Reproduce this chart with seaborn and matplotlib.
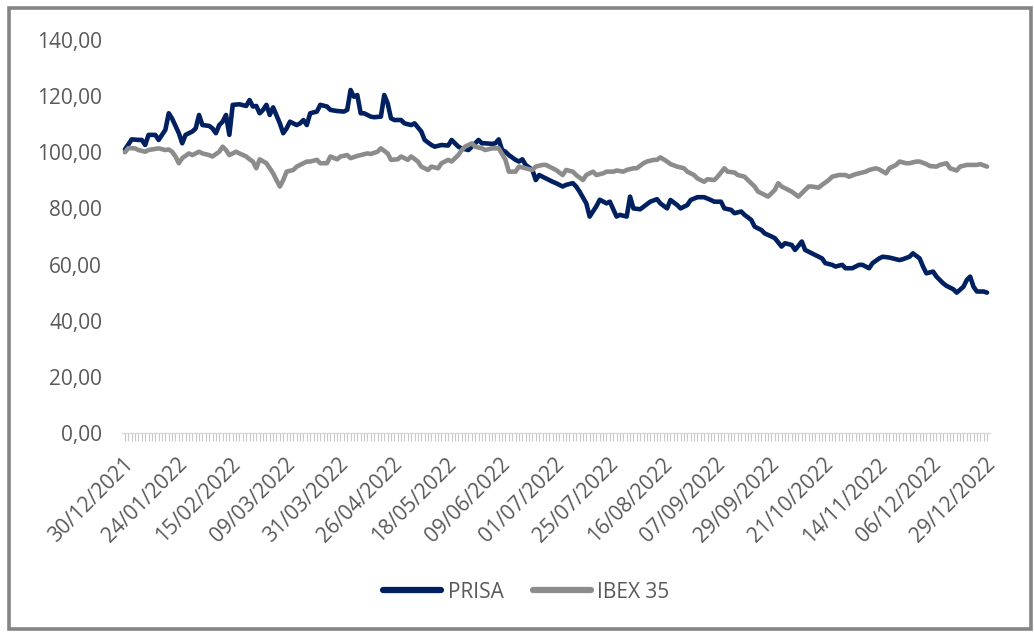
import numpy as np
import pandas as pd
import matplotlib
matplotlib.use("Agg")
import matplotlib.pyplot as plt
import seaborn as sns
from matplotlib.ticker import FuncFormatter, FixedLocator
from matplotlib.transforms import ScaledTranslation
from matplotlib.patches import Rectangle
from matplotlib.lines import Line2D

# ---------------- data (trading-session number, index value) ----------------
tick_labels = ["30/12/2021", "24/01/2022", "15/02/2022", "09/03/2022", "31/03/2022",
               "26/04/2022", "18/05/2022", "09/06/2022", "01/07/2022", "25/07/2022",
               "16/08/2022", "07/09/2022", "29/09/2022", "21/10/2022", "14/11/2022",
               "06/12/2022", "29/12/2022"]
n_sessions = 257

prisa_day = [0, 2, 4, 5, 6, 7, 9, 10, 12, 13, 14, 16, 17, 18, 20, 21, 22, 23, 25, 26,
             27, 28, 29, 30, 31, 32, 34, 36, 37, 38, 39, 40, 41, 42, 43, 44, 46, 47, 48, 49,
             51, 52, 53, 54, 55, 57, 58, 60, 61, 63, 65, 66, 67, 68, 69, 70, 71, 73, 74, 76,
             77, 78, 79, 80, 82, 83, 85, 86, 88, 89, 91, 92, 94, 96, 97, 99, 100, 102, 103, 105,
             106, 107, 109, 110, 111, 112, 113, 114, 116, 117, 118, 119, 121, 122, 123, 125, 127, 128, 130, 131,
             133, 134, 135, 137, 138, 140, 141, 143, 144, 146, 147, 149, 150, 151, 153, 154, 156, 158, 159, 161,
             162, 164, 165, 167, 168, 170, 172, 174, 175, 177, 178, 180, 181, 183, 184, 186, 187, 189, 190, 192,
             193, 195, 196, 198, 199, 201, 202, 204, 205, 207, 208, 210, 211, 213, 214, 216, 218, 219, 221, 222,
             224, 225, 227, 228, 230, 231, 233, 234, 236, 237, 238, 240, 241, 243, 244, 246, 247, 249, 250, 251,
             252, 253, 255, 256]
prisa_val = [101.0, 104.6, 104.4, 104.4, 102.6, 106.2, 106.2, 104.4, 108.0, 113.9, 112.0, 106.8, 103.2, 106.2, 107.4, 108.5, 113.3, 109.7, 109.4, 108.5,
             106.8, 109.7, 110.9, 113.3, 106.2, 116.9, 117.1, 116.5, 118.6, 116.3, 116.5, 113.9, 115.1, 116.9, 113.3, 116.0, 110.3, 106.8, 108.5, 110.9,
             109.7, 110.3, 111.5, 109.7, 113.9, 114.5, 116.9, 116.3, 115.1, 114.7, 114.5, 115.1, 122.2, 119.8, 120.4, 113.9, 113.9, 112.7, 112.5, 112.7,
             120.4, 117.5, 112.1, 111.5, 111.5, 110.3, 109.7, 110.3, 107.4, 104.4, 102.6, 102.0, 102.6, 102.4, 104.4, 102.0, 101.4, 100.8, 102.0, 104.4,
             103.2, 103.2, 103.0, 103.2, 104.6, 100.8, 100.2, 99.0, 97.3, 96.7, 97.5, 95.5, 93.7, 90.1, 91.9, 90.7, 89.5, 89.0, 87.8, 88.4,
             89.0, 87.8, 86.0, 81.8, 77.1, 80.8, 83.1, 81.8, 82.4, 77.1, 77.7, 77.1, 84.2, 80.0, 79.7, 80.6, 82.4, 83.3, 81.8, 80.0,
             83.0, 81.2, 80.0, 81.2, 83.0, 84.0, 84.0, 83.0, 82.4, 82.4, 80.0, 79.5, 78.3, 78.9, 77.7, 75.9, 73.5, 72.3, 71.1, 70.0,
             69.4, 66.4, 67.6, 67.0, 65.2, 68.2, 65.2, 64.0, 63.4, 62.2, 60.5, 59.9, 59.3, 59.9, 58.7, 58.7, 59.9, 59.9, 58.7, 60.5,
             62.2, 62.8, 62.5, 62.2, 61.6, 61.9, 62.8, 64.0, 62.2, 59.3, 56.9, 57.5, 55.7, 53.3, 52.4, 51.2, 50.0, 52.1, 54.5, 55.7,
             52.1, 50.4, 50.4, 50.0]

ibex_day = [0, 1, 3, 4, 6, 7, 9, 10, 12, 13, 14, 15, 16, 17, 19, 20, 22, 23, 25, 26,
            28, 29, 30, 31, 33, 34, 36, 37, 38, 39, 40, 42, 43, 44, 45, 46, 47, 48, 50, 51,
            52, 54, 55, 57, 58, 60, 61, 63, 64, 66, 67, 69, 70, 72, 73, 75, 76, 78, 79, 81,
            82, 84, 85, 87, 88, 90, 91, 93, 94, 96, 97, 99, 100, 101, 103, 104, 106, 107, 109, 110,
            111, 113, 114, 116, 117, 119, 121, 122, 124, 125, 127, 128, 130, 131, 133, 134, 136, 137, 139, 140,
            142, 143, 145, 146, 148, 149, 151, 152, 154, 155, 157, 158, 159, 161, 162, 164, 166, 167, 169, 170,
            172, 173, 175, 176, 178, 179, 181, 182, 184, 185, 187, 188, 190, 191, 193, 194, 195, 197, 198, 200,
            201, 203, 204, 206, 207, 209, 210, 212, 214, 215, 217, 218, 220, 221, 223, 224, 226, 227, 229, 230,
            232, 233, 235, 236, 238, 239, 241, 242, 244, 245, 247, 248, 250, 251, 253, 254, 256]
ibex_val = [100.0, 101.5, 101.4, 100.8, 100.2, 100.8, 101.2, 101.4, 100.8, 101.0, 100.2, 98.5, 96.1, 97.9, 99.6, 99.0, 100.2, 99.6, 99.0, 98.5,
            100.2, 102.0, 100.8, 99.0, 100.2, 99.6, 98.5, 97.5, 96.7, 94.3, 97.5, 96.1, 94.3, 92.5, 90.1, 87.8, 90.1, 93.1, 93.7, 94.9,
            95.5, 96.7, 96.7, 97.3, 96.1, 96.1, 98.5, 97.5, 98.5, 99.0, 97.9, 98.7, 99.0, 99.6, 99.4, 100.2, 101.4, 99.6, 97.3, 97.5,
            98.5, 97.3, 98.5, 96.7, 94.9, 93.7, 94.9, 94.3, 96.1, 97.3, 96.7, 99.0, 100.8, 102.0, 103.2, 102.0, 101.4, 100.8, 101.4, 101.4,
            101.4, 97.3, 93.1, 93.1, 94.9, 94.3, 93.7, 94.9, 95.5, 95.5, 94.3, 93.7, 91.9, 93.7, 93.1, 91.9, 90.1, 91.9, 93.1, 91.9,
            92.5, 93.1, 93.1, 93.5, 93.1, 93.7, 94.3, 94.3, 96.1, 96.7, 97.3, 97.3, 98.2, 96.7, 95.8, 94.9, 94.3, 93.1, 91.9, 90.7,
            89.5, 90.4, 90.1, 91.3, 94.3, 93.1, 92.8, 91.9, 91.3, 90.1, 87.8, 86.0, 84.8, 84.2, 86.6, 89.0, 87.8, 86.6, 86.0, 84.2,
            85.4, 87.8, 87.8, 87.4, 88.4, 90.1, 91.3, 91.9, 91.9, 91.3, 92.2, 92.5, 93.1, 93.7, 94.3, 93.9, 92.5, 94.3, 95.5, 96.7,
            96.1, 96.1, 96.7, 96.7, 95.8, 95.1, 94.9, 95.5, 96.1, 94.3, 93.5, 94.9, 95.5, 95.5, 95.5, 95.8, 94.9]

series_names = ["PRISA", "IBEX 35"]
colors = {"PRISA": "#002060", "IBEX 35": "#8c8c8c"}

df = pd.concat([
    pd.DataFrame({"sesion": prisa_day, "valor": prisa_val, "serie": "PRISA"}),
    pd.DataFrame({"sesion": ibex_day, "valor": ibex_val, "serie": "IBEX 35"}),
], ignore_index=True)

# ---------------- plotting ----------------
sns.set_theme(style="white")
plt.rcParams["font.family"] = ["Open Sans", "DejaVu Sans"]
txt_color = "#595959"

fig = plt.figure(figsize=(10.34, 6.32), dpi=100)
ax = fig.add_axes([0.1176, 0.3149, 0.8402, 0.6218])

sns.lineplot(data=df, x="sesion", y="valor", hue="serie", hue_order=series_names,
             palette=colors, linewidth=3.3, estimator=None, legend=False, ax=ax)
for ln in ax.lines:
    ln.set_solid_capstyle("round")
    ln.set_solid_joinstyle("round")

ax.set_xlim(-1, n_sessions)
ax.set_ylim(0, 140)
ax.set_xlabel("")
ax.set_ylabel("")

for s in ["left", "right", "top"]:
    ax.spines[s].set_visible(False)
ax.spines["bottom"].set_color("#d9d9d9")
ax.spines["bottom"].set_linewidth(1.0)

ax.set_yticks(np.arange(0, 141, 20))
ax.yaxis.set_major_formatter(FuncFormatter(lambda v, p: f"{v:.2f}".replace(".", ",")))
ax.tick_params(axis="y", left=False, length=0, pad=14, labelsize=15, labelcolor=txt_color)

major_pos = list(range(0, n_sessions, 16))
ax.xaxis.set_major_locator(FixedLocator(major_pos))
ax.xaxis.set_minor_locator(FixedLocator(list(range(0, n_sessions))))
ax.set_xticklabels(tick_labels, rotation=45, ha="right", va="center", rotation_mode="anchor")
ax.tick_params(axis="x", which="both", bottom=True, direction="out", length=5.5,
               width=0.8, color="#c8c8c8")
ax.tick_params(axis="x", which="major", pad=15, labelsize=15, labelcolor=txt_color)
offset = ScaledTranslation(5 / 100, 0, fig.dpi_scale_trans)
for lab in ax.get_xticklabels():
    lab.set_transform(lab.get_transform() + offset)

handles = [Line2D([0], [0], color=colors[n], lw=4.5, solid_capstyle="round") for n in series_names]
leg = fig.legend(handles, series_names, loc="center", bbox_to_anchor=(0.509, 0.063), ncol=2,
                 frameon=False, fontsize=15, handlelength=2.8, handletextpad=0.3,
                 columnspacing=1.4)
for t in leg.get_texts():
    t.set_color(txt_color)

fig.patches.append(Rectangle((0.0087, 0.004), 0.988, 0.984, transform=fig.transFigure,
                             fill=False, edgecolor="#858585", linewidth=2.6, zorder=10))

fig.savefig("out.png", dpi=100)
